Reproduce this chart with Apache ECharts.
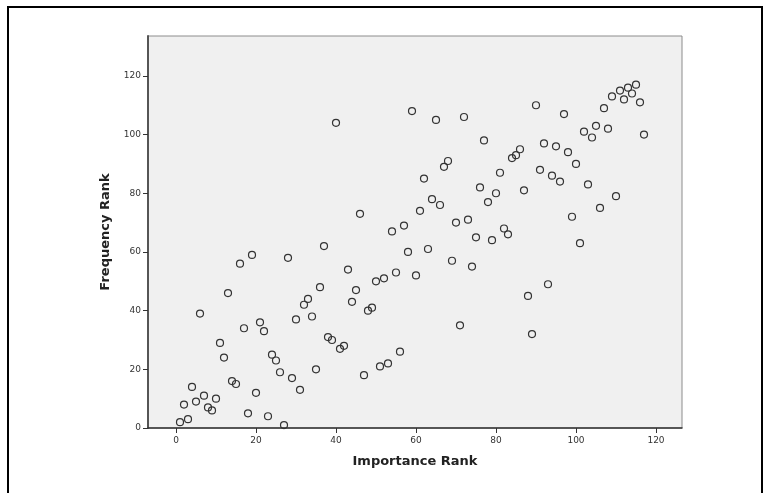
<!DOCTYPE html>
<html>
<head>
<meta charset="utf-8">
<script src="https://cdn.jsdelivr.net/npm/echarts@6/dist/echarts.min.js"></script>
<style>html,body{margin:0;padding:0;background:#fff}#c{width:770px;height:493px}</style>
</head>
<body>
<div id="c"></div>
<script>
// Importance rank (x) and frequency rank (y), one entry per item
const importanceRank = [1,2,3,4,5,6,7,8,9,10,11,12,13,14,15,16,17,18,19,20,21,22,23,24,25,26,27,28,29,30,31,32,33,34,35,36,37,38,39,40,41,42,43,44,45,46,47,48,49,50,51,52,53,54,55,56,57,58,59,60,61,62,63,64,65,66,67,68,69,70,71,72,73,74,75,76,77,78,79,80,81,82,83,84,85,86,87,88,89,90,91,92,93,94,95,96,97,98,99,100,101,102,103,104,105,106,107,108,109,110,111,112,113,114,115,116,117];
const frequencyRank = [2,8,3,14,9,39,11,7,6,10,29,24,46,16,15,56,34,5,59,12,36,33,4,25,23,19,1,58,17,37,13,42,44,38,20,48,62,31,30,104,27,28,54,43,47,73,18,40,41,50,21,51,22,67,53,26,69,60,108,52,74,85,61,78,105,76,89,91,57,70,35,106,71,55,65,82,98,77,64,80,87,68,66,92,93,95,81,45,32,110,88,97,49,86,96,84,107,94,72,90,63,101,83,99,103,75,109,102,113,79,115,112,116,114,117,111,100];
const xTicks = [0,20,40,60,80,100,120];
const yTicks = [0,20,40,60,80,100,120];
const xTitle = 'Importance Rank';
const yTitle = 'Frequency Rank';

const points = importanceRank.map((x, i) => [x, frequencyRank[i]]);

const chart = echarts.init(document.getElementById('c'), null, {renderer: 'canvas'});
const labelFont = {fontFamily: 'DejaVu Sans', fontSize: 9, color: '#333'};
const nameFont = {fontFamily: 'DejaVu Sans', fontSize: 13, fontWeight: 'bold', color: '#222'};
chart.setOption({
  animation: false,
  backgroundColor: '#fff',
  graphic: [{
    type: 'rect',
    shape: {x: 8, y: 7, width: 754, height: 520},
    style: {fill: 'none', stroke: '#000', lineWidth: 2},
    silent: true
  }],
  grid: {
    left: 148, right: 88, top: 36, bottom: 65,
    show: true, backgroundColor: '#f0f0f0', borderColor: '#8c8c8c', borderWidth: 1
  },
  xAxis: {
    type: 'value', min: -7, max: 126.5,
    name: xTitle, nameLocation: 'middle', nameGap: 27, nameTextStyle: nameFont,
    splitLine: {show: false},
    axisLine: {show: true, onZero: false, lineStyle: {color: '#333', width: 1.5}},
    axisTick: {show: true, length: 5, customValues: xTicks, lineStyle: {color: '#333'}},
    axisLabel: Object.assign({customValues: xTicks, margin: 8}, labelFont)
  },
  yAxis: {
    type: 'value', min: 0, max: 133.6,
    name: yTitle, nameLocation: 'middle', nameGap: 36, nameTextStyle: nameFont,
    splitLine: {show: false},
    axisLine: {show: true, onZero: false, lineStyle: {color: '#555', width: 2}},
    axisTick: {show: true, length: 5, customValues: yTicks, lineStyle: {color: '#333'}},
    axisLabel: Object.assign({customValues: yTicks, margin: 7}, labelFont)
  },
  series: [{
    type: 'scatter',
    data: points,
    symbol: 'circle',
    symbolSize: 7,
    itemStyle: {color: 'rgba(0,0,0,0)', borderColor: '#333', borderWidth: 1.2, opacity: 1}
  }]
});
</script>
</body>
</html>
